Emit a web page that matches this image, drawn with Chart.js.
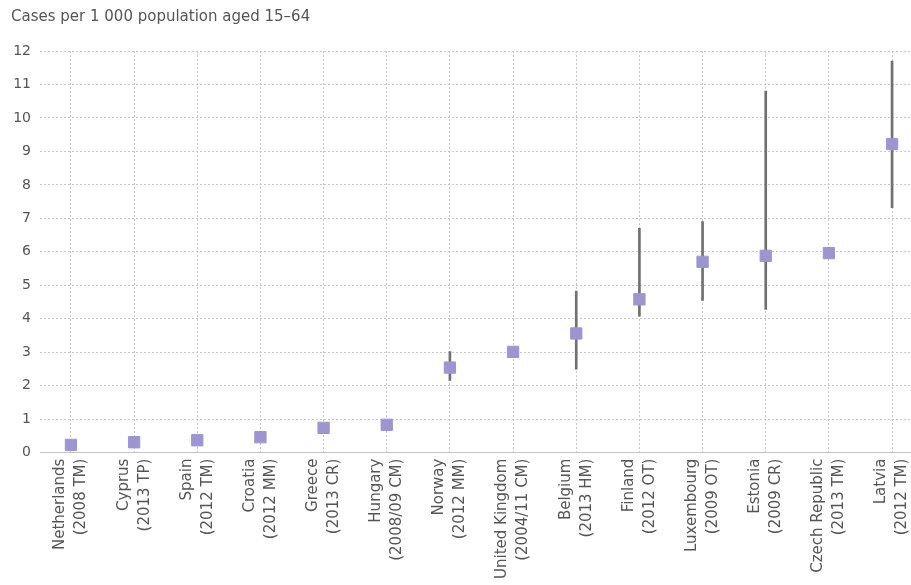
<!DOCTYPE html>
<html>
<head>
<meta charset="utf-8">
<script src="https://cdn.jsdelivr.net/npm/chart.js@4.4.1/dist/chart.umd.min.js"></script>
<style>
  html, body { margin: 0; padding: 0; background: #fff; overflow: hidden; }
  canvas { display: block; }
</style>
</head>
<body>
<canvas id="casesChart" width="911" height="585"></canvas>
<script>
// Pays et année / méthode d'estimation
const countries = ['Netherlands', 'Cyprus', 'Spain', 'Croatia', 'Greece', 'Hungary', 'Norway',
    'United Kingdom', 'Belgium', 'Finland', 'Luxembourg', 'Estonia', 'Czech Republic', 'Latvia'];
const studies = ['(2008 TM)', '(2013 TP)', '(2012 TM)', '(2012 MM)', '(2013 CR)', '(2008/09 CM)', '(2012 MM)',
    '(2004/11 CM)', '(2013 HM)', '(2012 OT)', '(2009 OT)', '(2009 CR)', '(2013 TM)', '(2012 TM)'];

// Estimation centrale et intervalle (null = pas d'intervalle)
const rates = [0.23, 0.31, 0.37, 0.46, 0.74, 0.83, 2.54, 3.01, 3.56, 4.58, 5.70, 5.88, 5.96, 9.22];
const rangeLow = [null, null, null, null, null, null, 2.16, null, 2.49, 4.08, 4.55, 4.28, null, 7.32];
const rangeHigh = [null, null, null, null, null, null, 3.02, null, 4.83, 6.70, 6.90, 10.80, null, 11.70];

const yTicks = [0, 1, 2, 3, 4, 5, 6, 7, 8, 9, 10, 11, 12];

const pointData = rates.map((v, i) => ({ x: i, y: v }));
const rangeData = rangeLow.map((lo, i) => (lo === null ? { x: i, y: null } : { x: i, y: [lo, rangeHigh[i]] }));

const gridStyle = { color: '#c9c9c9', lineWidth: 1, drawTicks: false };

const ctx = document.getElementById('casesChart').getContext('2d');
new Chart(ctx, {
    type: 'scatter',
    data: {
        datasets: [
            {
                type: 'bar',
                label: 'Range',
                data: rangeData,
                backgroundColor: '#707070',
                barThickness: 2,
                order: 2
            },
            {
                label: 'Estimate',
                data: pointData,
                pointStyle: 'rect',
                pointRadius: 8,
                pointHoverRadius: 8,
                backgroundColor: '#9c96d0',
                borderColor: '#9c96d0',
                order: 1
            }
        ]
    },
    options: {
        responsive: false,
        animation: false,
        layout: { autoPadding: false, padding: { left: 11, right: 0, top: 0, bottom: 0 } },
        plugins: {
            legend: { display: false },
            tooltip: { enabled: false },
            title: {
                display: true,
                text: 'Cases per 1 000 population aged 15–64',
                align: 'start',
                color: '#555',
                font: { family: 'DejaVu Sans', size: 15, weight: 'normal' },
                padding: { top: 8, bottom: 25 }
            }
        },
        scales: {
            x: {
                type: 'linear',
                min: -0.49,
                max: 13.3,
                offset: false,
                afterBuildTicks: (scale) => {
                    scale.ticks = countries.map((c, i) => ({ value: i }));
                },
                afterFit: (scale) => {
                    // pas de marge à droite : la grille va jusqu'au bord
                    scale.paddingRight = 0;
                    scale.paddingLeft = 0;
                },
                grid: { ...gridStyle, offset: false },
                border: { display: true, color: '#c4c4c4', dash: [2, 2] },
                ticks: {
                    autoSkip: false,
                    minRotation: 90,
                    maxRotation: 90,
                    padding: 6,
                    labelOffset: -10.5,
                    color: '#555',
                    font: { family: 'DejaVu Sans', size: 15, lineHeight: 1.4 },
                    callback: (value) => [countries[value], studies[value]]
                }
            },
            y: {
                min: 0,
                max: 12,
                afterBuildTicks: (scale) => {
                    scale.ticks = yTicks.map((v) => ({ value: v }));
                },
                afterFit: (scale) => {
                    scale.width = 29;
                },
                grid: gridStyle,
                border: { display: false, dash: [2, 2] },
                ticks: {
                    padding: 9,
                    color: '#555',
                    font: { family: 'DejaVu Sans', size: 14 }
                }
            }
        }
    }
});
</script>
</body>
</html>
